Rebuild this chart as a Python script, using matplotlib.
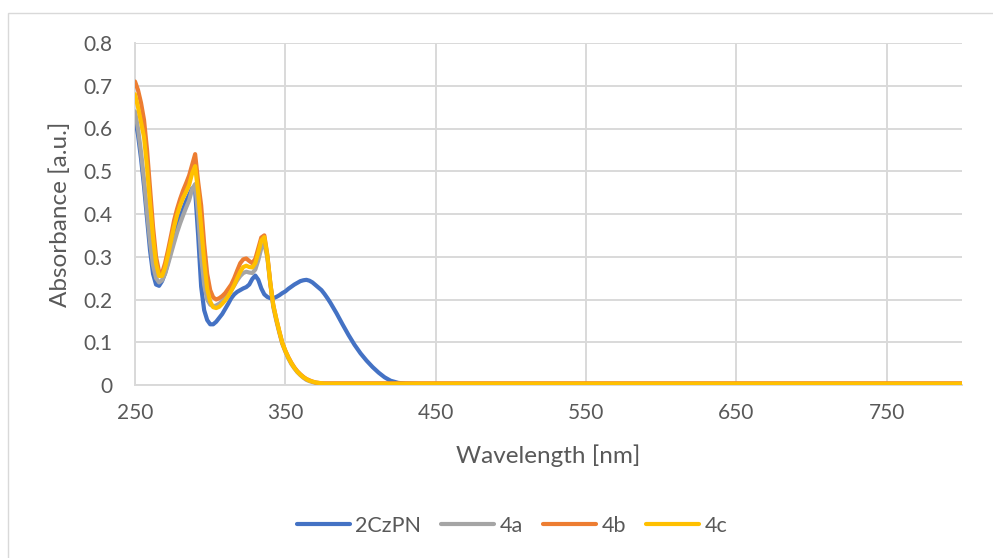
import matplotlib
matplotlib.use("Agg")
import matplotlib.pyplot as plt
from matplotlib.patches import Rectangle

# ---------------- data ----------------
wavelength = [250, 252, 254, 256, 258, 260, 262, 264, 266, 268, 270, 272, 274, 276, 278,
              280, 282, 284, 286, 288, 290, 292, 294, 296, 298, 300, 302, 304, 306, 308,
              310, 312, 314, 316, 318, 320, 322, 324, 326, 328, 330, 332, 334, 336, 338,
              340, 342, 344, 346, 348, 350, 352, 354, 356, 358, 360, 362, 364, 366, 368,
              370, 372, 374, 376, 378, 380, 384, 388, 392, 396, 400, 404, 408, 412, 416,
              420, 425, 430, 440, 450, 500, 550, 600, 650, 700, 750, 800]

abs_2czpn = [0.625, 0.585, 0.530, 0.465, 0.390, 0.315, 0.260, 0.235, 0.232, 0.243, 0.262, 0.288, 0.315, 0.342, 0.368,
             0.392, 0.412, 0.430, 0.445, 0.460, 0.455, 0.350, 0.230, 0.175, 0.152, 0.142, 0.142, 0.148, 0.157, 0.166,
             0.178, 0.190, 0.203, 0.212, 0.218, 0.222, 0.226, 0.229, 0.235, 0.248, 0.256, 0.246, 0.226, 0.212, 0.206,
             0.203, 0.203, 0.206, 0.210, 0.215, 0.219, 0.225, 0.230, 0.235, 0.239, 0.243, 0.245, 0.246, 0.244, 0.240,
             0.234, 0.228, 0.222, 0.213, 0.203, 0.192, 0.168, 0.142, 0.117, 0.094, 0.074, 0.057, 0.042, 0.029, 0.018,
             0.010, 0.005, 0.003, 0.002, 0.002, 0.002, 0.002, 0.002, 0.002, 0.002, 0.002, 0.002]

abs_4a = [0.640, 0.600, 0.545, 0.480, 0.405, 0.335, 0.280, 0.250, 0.240, 0.245, 0.260, 0.283, 0.308, 0.333, 0.357,
          0.378, 0.397, 0.415, 0.432, 0.458, 0.470, 0.400, 0.300, 0.235, 0.200, 0.188, 0.184, 0.186, 0.190, 0.196,
          0.203, 0.212, 0.222, 0.233, 0.245, 0.255, 0.262, 0.265, 0.263, 0.262, 0.270, 0.292, 0.320, 0.330, 0.298,
          0.236, 0.182, 0.150, 0.122, 0.096, 0.078, 0.062, 0.049, 0.039, 0.030, 0.023, 0.017, 0.012, 0.009, 0.007,
          0.005, 0.004, 0.003, 0.002, 0.002, 0.002, 0.002, 0.002, 0.002, 0.002, 0.002, 0.002, 0.002, 0.002, 0.002,
          0.002, 0.002, 0.002, 0.002, 0.002, 0.002, 0.002, 0.002, 0.002, 0.002, 0.002, 0.002]

abs_4b = [0.710, 0.690, 0.660, 0.620, 0.550, 0.460, 0.370, 0.300, 0.265, 0.262, 0.285, 0.316, 0.350, 0.385, 0.412,
          0.435, 0.455, 0.472, 0.490, 0.515, 0.540, 0.475, 0.420, 0.330, 0.260, 0.222, 0.205, 0.200, 0.203, 0.208,
          0.215, 0.225, 0.235, 0.250, 0.268, 0.285, 0.294, 0.296, 0.290, 0.285, 0.295, 0.320, 0.345, 0.350, 0.305,
          0.238, 0.186, 0.154, 0.125, 0.098, 0.080, 0.065, 0.052, 0.041, 0.032, 0.025, 0.019, 0.014, 0.011, 0.008,
          0.006, 0.005, 0.004, 0.004, 0.004, 0.004, 0.004, 0.004, 0.004, 0.004, 0.004, 0.004, 0.004, 0.004, 0.004,
          0.004, 0.004, 0.004, 0.004, 0.004, 0.004, 0.004, 0.004, 0.004, 0.004, 0.004, 0.004]

abs_4c = [0.680, 0.650, 0.615, 0.580, 0.510, 0.425, 0.345, 0.285, 0.255, 0.255, 0.275, 0.305, 0.338, 0.370, 0.398,
          0.420, 0.438, 0.452, 0.468, 0.495, 0.512, 0.450, 0.370, 0.290, 0.225, 0.195, 0.182, 0.180, 0.183, 0.190,
          0.198, 0.208, 0.220, 0.234, 0.250, 0.265, 0.276, 0.279, 0.276, 0.275, 0.285, 0.310, 0.338, 0.346, 0.302,
          0.238, 0.186, 0.154, 0.125, 0.098, 0.080, 0.064, 0.051, 0.040, 0.031, 0.024, 0.018, 0.014, 0.010, 0.008,
          0.006, 0.005, 0.004, 0.003, 0.003, 0.003, 0.003, 0.003, 0.003, 0.003, 0.003, 0.003, 0.003, 0.003, 0.003,
          0.003, 0.003, 0.003, 0.003, 0.003, 0.003, 0.003, 0.003, 0.003, 0.003, 0.003, 0.003]

series_names = ["2CzPN", "4a", "4b", "4c"]
series_values = [abs_2czpn, abs_4a, abs_4b, abs_4c]
series_colors = ["#4472C4", "#A5A5A5", "#ED7D31", "#FFC000"]

x_ticks = [250, 350, 450, 550, 650, 750]
y_ticks = [0, 0.1, 0.2, 0.3, 0.4, 0.5, 0.6, 0.7, 0.8]
x_label = "Wavelength [nm]"
y_label = "Absorbance [a.u.]"

# ---------------- style ----------------
W, H = 993, 558
plt.rcParams['font.family'] = ['Lato', 'DejaVu Sans']
TXT = "#595959"
GRID = "#D9D9D9"
FS_TICK = 15.0
FS_LEG = 15.5
FS_LAB = 17.5

fig = plt.figure(figsize=(W / 100, H / 100), dpi=100)
fig.patch.set_facecolor("white")

# outer chart border
fig.patches.append(Rectangle((8 / W, -0.1), 1.2, 1 - 13 / H + 0.1, transform=fig.transFigure,
                             fill=False, edgecolor=GRID, linewidth=1.0))

ax = fig.add_axes([135 / W, 1 - 385 / H, (962 - 135) / W, (385 - 43) / H])

for name, vals, col in zip(series_names, series_values, series_colors):
    ax.plot(wavelength, vals, color=col, linewidth=3.0, label=name,
            solid_capstyle="round", solid_joinstyle="round", zorder=3)

ax.set_xlim(250, 800)
ax.set_ylim(0, 0.8)
ax.set_xticks(x_ticks)
ax.set_yticks(y_ticks)
ax.set_xticklabels([str(v) for v in x_ticks])
ax.set_yticklabels([f"{v:g}" for v in y_ticks])
ax.tick_params(axis="both", length=0, labelsize=FS_TICK, labelcolor=TXT)
ax.tick_params(axis="x", pad=13)
ax.tick_params(axis="y", pad=16)

ax.grid(True, color=GRID, linewidth=1.4, zorder=0)
ax.set_axisbelow(True)
for s in ["top", "right"]:
    ax.spines[s].set_visible(False)
for s in ["left", "bottom"]:
    ax.spines[s].set_color(GRID)
    ax.spines[s].set_linewidth(1.4)

fig.text(548 / W, 1 - 456 / H, x_label, ha="center", va="center", fontsize=FS_LAB, color=TXT)
fig.text(60 / W, 1 - 214 / H, y_label, ha="center", va="center", rotation=90, fontsize=FS_LAB, color=TXT)

leg = ax.legend(loc="center", bbox_to_anchor=(512 / W, 1 - 526 / H), bbox_transform=fig.transFigure,
                ncol=4, frameon=False, fontsize=FS_LEG, handlelength=2.45, handletextpad=0.25,
                columnspacing=0.95)
for t in leg.get_texts():
    t.set_color(TXT)

fig.savefig("out.png", dpi=100, facecolor="white")
